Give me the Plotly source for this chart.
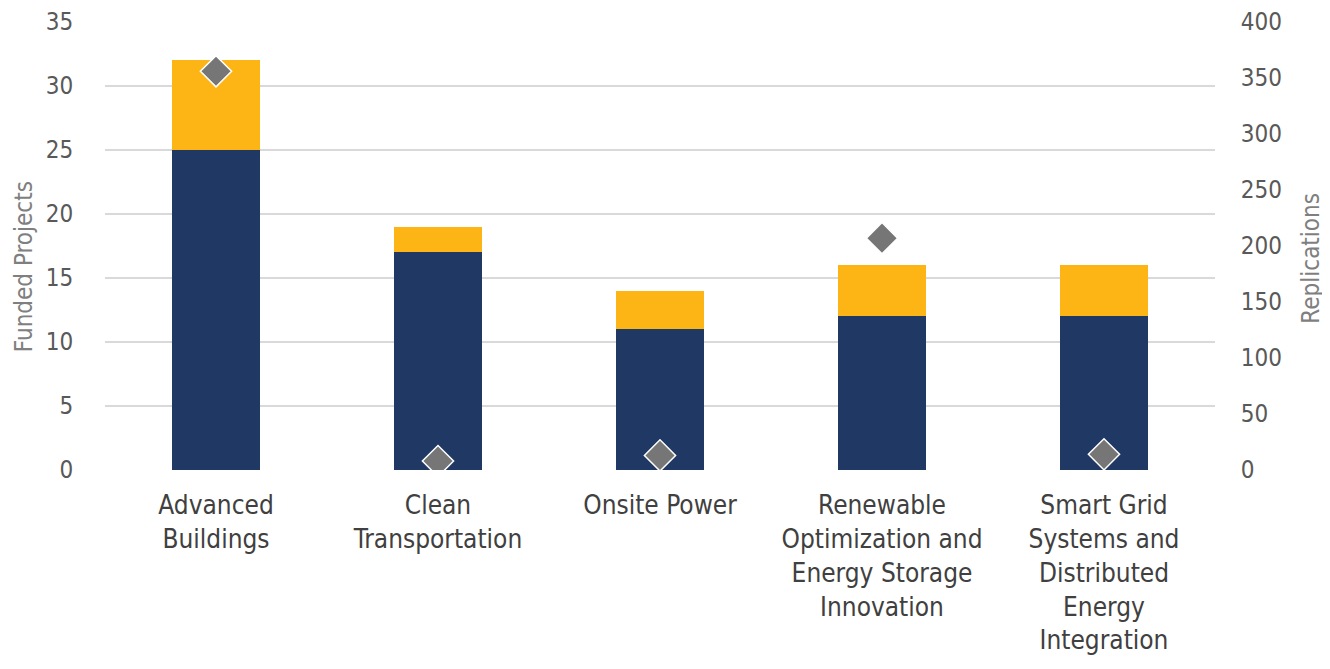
import plotly.graph_objects as go

# ── Data ──────────────────────────────────────────────────────────────────────
categories = [
    "Advanced<br>Buildings",
    "Clean<br>Transportation",
    "Onsite Power",
    "Renewable<br>Optimization and<br>Energy Storage<br>Innovation",
    "Smart Grid<br>Systems and<br>Distributed<br>Energy<br>Integration",
]
funded_base = [25, 17, 11, 12, 12]
funded_extra = [7, 2, 3, 4, 4]
replications = [356, 8, 13, 207, 14]

# ── Style ─────────────────────────────────────────────────────────────────────
NAVY = "#203864"
GOLD = "#FDB515"
DIAMOND = "#767676"
GRID = "#D9D9D9"
FONT = "DejaVu Sans Condensed, sans-serif"

fig = go.Figure()
fig.add_trace(go.Bar(x=categories, y=funded_base, marker=dict(color=NAVY, line=dict(width=0)),
                     width=0.4, showlegend=False))
fig.add_trace(go.Bar(x=categories, y=funded_extra, marker=dict(color=GOLD, line=dict(width=0)),
                     width=0.4, showlegend=False))
fig.add_trace(go.Scatter(
    x=categories, y=replications, yaxis="y2", mode="markers", showlegend=False,
    marker=dict(symbol="diamond", size=24, color=DIAMOND, line=dict(color="white", width=1.5)),
))

# axis titles placed as rotated annotations (they sit a bit below centre)
for text, x, y in [("Funded Projects", -0.073, 0.455), ("Replications", 1.087, 0.473)]:
    fig.add_annotation(text=text, x=x, y=y, xref="paper", yref="paper", showarrow=False,
                       textangle=-90, xanchor="center", yanchor="middle",
                       font=dict(size=24, color="#7F7F7F"))

# page body has an 8px margin, so the figure is sized/offset to compensate
fig.update_layout(
    barmode="stack",
    width=1322, height=661,
    paper_bgcolor="white", plot_bgcolor="white",
    margin=dict(l=97, r=115, t=14, b=199, autoexpand=False),
    font=dict(family=FONT, size=24, color="#595959"),
    xaxis=dict(tickfont=dict(color="#404040", size=26), showline=False,
               ticks="outside", ticklen=12, tickcolor="rgba(0,0,0,0)", automargin=False),
    yaxis=dict(range=[0, 35], dtick=5, gridcolor=GRID, gridwidth=1.5, zeroline=False,
               ticks="outside", ticklen=26, tickcolor="rgba(0,0,0,0)", automargin=False),
    yaxis2=dict(range=[0, 400], dtick=50, overlaying="y", side="right", showgrid=False,
                zeroline=False, ticks="outside", ticklen=20, tickcolor="rgba(0,0,0,0)",
                automargin=False),
)

fig.write_html("out.html")
